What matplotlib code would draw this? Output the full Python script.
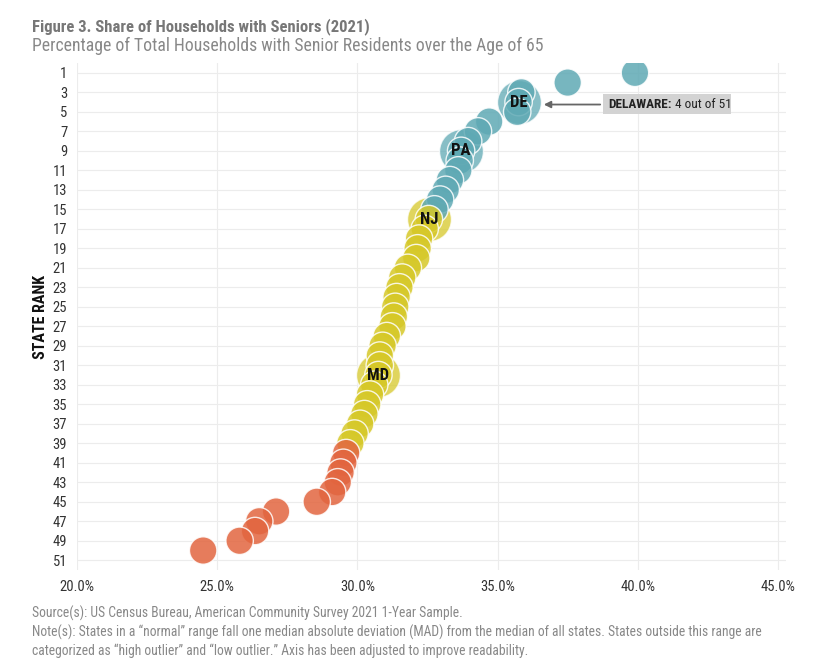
import matplotlib.pyplot as plt
from matplotlib.patches import Rectangle

plt.rcParams['font.family'] = ['Roboto Condensed', 'Liberation Sans Narrow', 'Roboto', 'DejaVu Sans']

# state rank and share of households with seniors (%)
ranks = list(range(1, 51))
shares = [39.9, 37.5, 35.85, 35.75, 35.7, 34.7, 34.3, 33.95, 33.7, 33.65,
          33.6, 33.3, 33.15, 32.95, 32.75, 32.55, 32.4, 32.2, 32.15, 32.1,
          31.8, 31.6, 31.5, 31.4, 31.35, 31.3, 31.25, 31.05, 30.9, 30.8,
          30.8, 30.75, 30.6, 30.45, 30.35, 30.25, 30.1, 29.9, 29.75, 29.6,
          29.5, 29.4, 29.3, 29.1, 28.55, 27.1, 26.5, 26.35, 25.8, 24.5]
# 'high' outlier, 'normal' range, 'low' outlier
groups = ['high'] * 15 + ['normal'] * 24 + ['low'] * 11
highlight_ranks = [4, 9, 16, 32]
highlight_labels = ['DE', 'PA', 'NJ', 'MD']

x_ticks = [20, 25, 30, 35, 40, 45]
y_ticks = list(range(1, 52, 2))

colors = {'high': '#5fa9b4', 'normal': '#d6c828', 'low': '#e2653f'}


def plot_chart():
    fig = plt.figure(figsize=(8.21, 6.67), dpi=100)
    ax = fig.add_axes([0.0938, 0.1454, 0.864, 0.760])

    # highlighted states get a bigger, lighter circle behind
    for r, lab in zip(highlight_ranks, highlight_labels):
        i = ranks.index(r)
        ax.scatter(shares[i], r, s=1000, color=colors[groups[i]], alpha=0.75,
                   edgecolor='white', linewidth=1, zorder=2)

    ax.scatter(shares, ranks, s=390, c=[colors[g] for g in groups], alpha=0.85,
               edgecolor='white', linewidth=1, zorder=3)

    for r, lab in zip(highlight_ranks, highlight_labels):
        i = ranks.index(r)
        ax.text(shares[i], r, lab, ha='center', va='center', fontsize=12,
                fontweight='bold', color='#111111', zorder=5)

    # Delaware callout
    ax.add_patch(Rectangle((38.76, 3.2), 4.55, 2.05, facecolor='#d3d3d3',
                           edgecolor='none', zorder=4))
    t1 = ax.text(38.95, 4.25, 'DELAWARE:', fontsize=9.5, fontweight='bold',
                 color='#222222', va='center', zorder=5)
    ax.annotate(' 4 out of 51', xy=(1, 0.5), xycoords=t1, va='center',
                fontsize=9.5, color='#222222', zorder=5)
    ax.annotate('', xy=(36.55, 4.25), xytext=(38.76, 4.25),
                arrowprops=dict(arrowstyle='-|>', color='#666666', lw=1.3,
                                mutation_scale=10), zorder=4)

    ax.set_xlim(20, 45.3)
    ax.set_ylim(52, 0)
    ax.set_xticks(x_ticks)
    ax.set_xticklabels([f'{v:.1f}%' for v in x_ticks])
    ax.set_yticks(y_ticks)
    ax.tick_params(axis='both', length=0, labelsize=10.5, colors='#333333', pad=7)
    ax.grid(True, color='#ececec', linewidth=0.8, zorder=0)
    ax.set_axisbelow(True)
    for sp in ax.spines.values():
        sp.set_visible(False)
    ax.set_ylabel('STATE RANK', fontsize=11.5, fontweight='bold', color='#111111')
    ax.yaxis.set_label_coords(-0.041, 0.5)

    fig.text(0.039, 0.973, 'Figure 3. Share of Households with Seniors (2021)',
             fontsize=12, fontweight='bold', color='#777777', va='top')
    fig.text(0.039, 0.945, 'Percentage of Total Households with Senior Residents over the Age of 65',
             fontsize=12.7, color='#888888', va='top')

    fig.text(0.039, 0.080, 'Source(s): US Census Bureau, American Community Survey 2021 1-Year Sample.',
             fontsize=9.8, color='#888888', va='center')
    fig.text(0.039, 0.052, 'Note(s): States in a \u201cnormal\u201d range fall one median absolute deviation (MAD) '
             'from the median of all states. States outside this range are',
             fontsize=9.8, color='#888888', va='center')
    fig.text(0.039, 0.025, 'categorized as \u201chigh outlier\u201d and \u201clow outlier.\u201d '
             'Axis has been adjusted to improve readability.',
             fontsize=9.8, color='#888888', va='center')

    fig.savefig('out.png', dpi=100, facecolor='white')
    plt.close(fig)


if __name__ == '__main__':
    plot_chart()
